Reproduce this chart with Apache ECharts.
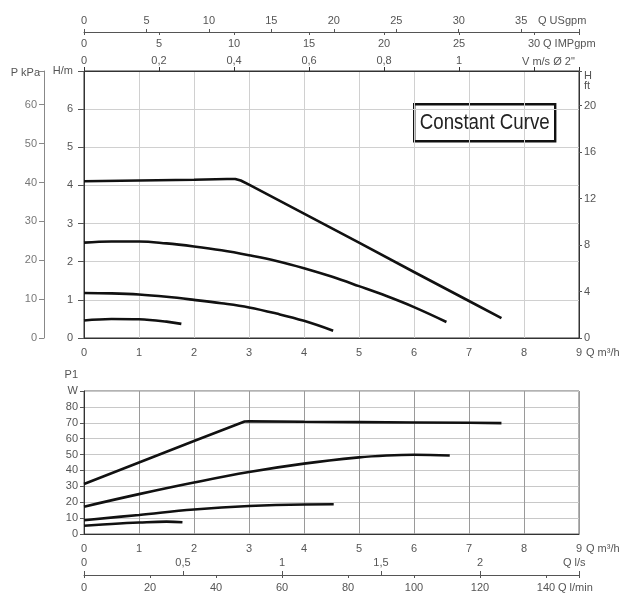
<!DOCTYPE html>
<html><head><meta charset="utf-8">
<script src="https://cdn.jsdelivr.net/npm/echarts@6/dist/echarts.min.js"></script>
<style>html,body{margin:0;padding:0;background:#fff}#c{width:630px;height:597px}</style>
</head><body><div id="c"></div>
<script>
// ---- Data ----
// Head curves: [Q m3/h, H m]
const headCurve1 = [[0,4.11],[1,4.13],[2,4.15],[2.6,4.17],[2.75,4.17],[2.85,4.13],[3,4.02],[4,3.26],[5,2.50],[6,1.73],[7,0.97],[7.59,0.52]];
const headCurve2 = [[0,2.50],[0.5,2.53],[1,2.53],[1.5,2.48],[2,2.40],[2.5,2.30],[3,2.17],[3.5,2.02],[4,1.83],[4.5,1.61],[5,1.36],[5.5,1.10],[6,0.81],[6.59,0.42]];
const headCurve3 = [[0,1.18],[0.5,1.17],[1,1.14],[1.5,1.08],[2,1.00],[2.5,0.91],[3,0.80],[3.5,0.64],[4,0.45],[4.53,0.19]];
const headCurve4 = [[0,0.46],[0.5,0.50],[1,0.49],[1.5,0.43],[1.77,0.37]];
// Power curves: [Q m3/h, P1 W]
const powerCurve1 = [[0,31.5],[1,45],[2,58.5],[2.92,70.8],[3,70.9],[4,70.6],[5,70.4],[6,70.2],[7,70],[7.59,69.8]];
const powerCurve2 = [[0,17.2],[1,25.1],[2,32.4],[3,39],[4,44.3],[5,48.2],[5.5,49.4],[6,49.9],[6.65,49.4]];
const powerCurve3 = [[0,8.7],[1,12],[2,15.4],[3,17.6],[4,18.6],[4.54,18.7]];
const powerCurve4 = [[0,5.2],[0.5,6.3],[1,7.2],[1.5,7.8],[1.79,7.4]];

// Axis ranges / conversions
const qMax = 9;          // m3/h
const hMax = 7;          // m
const wMax = 90;         // W
const usgpmPerM3h = 4.403;
const impgpmPerM3h = 3.666;
const m3hPerMs = 6.82;   // velocity in 2" pipe
const lsPerM3h = 1 / 3.6;
const lminPerM3h = 1000 / 60;
const kpaPerM = 9.81;
const ftPerM = 3.2808;

// Axis names
const nameQ = 'Q m³/h';
const nameUS = 'Q USgpm';
const nameIMP = 'Q IMPgpm';
const nameV = 'V m/s Ø 2"';
const nameLs = 'Q l/s';
const nameLmin = 'Q l/min';

// ---- Chart ----
const FONT = 'Liberation Sans, Arial, sans-serif';
const lab = (extra) => Object.assign({color:'#555', fontSize:11, fontFamily:FONT}, extra || {});
const fmt = v => String(+(+v).toFixed(2)).replace('.', ',');
const onStep = (v, step) => Math.abs(v/step - Math.round(v/step)) < 1e-6;
const stepFmt = (step, maxShown) => v => (onStep(v, step) && (maxShown === undefined || v <= maxShown + 1e-9)) ? fmt(v) : '';
const aLine = (color, show) => ({show: show !== false, onZero:false, lineStyle:{color}});

const chart = echarts.init(document.getElementById('c'), null, {renderer:'canvas'});
const lineS = (data, xi, yi, smooth) => ({
  type:'line', data, xAxisIndex:xi, yAxisIndex:yi, showSymbol:false, symbol:'none',
  smooth: smooth, lineStyle:{color:'#111', width:2.6}, silent:true, animation:false
});

const nameStyle = (extra) => Object.assign({color:'#555', fontSize:11, fontFamily:FONT}, extra);

chart.setOption({
  animation:false,
  backgroundColor:'#fff',
  grid:[
    {left:84, top:71, width:495, height:267, show:true, borderColor:'#333', borderWidth:1, backgroundColor:'transparent', outerBoundsMode:'none', containLabel:false},
    {left:84, top:391, width:495, height:143, show:true, borderColor:'#666', borderWidth:1, backgroundColor:'transparent', outerBoundsMode:'none', containLabel:false}
  ],
  xAxis:[
    { // 0: top chart Q m3/h
      type:'value', gridIndex:0, position:'bottom', min:0, max:qMax, interval:1,
      axisLine:aLine('#333'), axisTick:{show:false},
      axisLabel:lab({margin:9, formatter:stepFmt(1)}),
      splitLine:{show:true, lineStyle:{color:'#d0d0d0', width:1}},
      name:nameQ, nameLocation:'end', nameGap:7, nameMoveOverlap:false,
      nameTextStyle:nameStyle({align:'left', verticalAlign:'top', padding:[9,0,0,0]})
    },
    { // 1: velocity
      type:'value', gridIndex:0, position:'top', offset:0, min:0, max:qMax/m3hPerMs, interval:0.2,
      axisLine:aLine('#333'), axisTick:{show:true, length:4, lineStyle:{color:'#333'}},
      axisLabel:lab({margin:5, formatter:stepFmt(0.2, 1.0)}),
      splitLine:{show:false},
      name:nameV, nameLocation:'end', nameGap:-57, nameMoveOverlap:false,
      nameTextStyle:nameStyle({align:'left', verticalAlign:'bottom', padding:[0,0,4,0]})
    },
    { // 2: USgpm
      type:'value', gridIndex:0, position:'top', offset:39, min:0, max:qMax*usgpmPerM3h, interval:5,
      axisLine:aLine('#555'), axisTick:{show:true, length:3, lineStyle:{color:'#555'}},
      axisLabel:lab({margin:6, formatter:stepFmt(5)}),
      splitLine:{show:false},
      name:nameUS, nameLocation:'end', nameGap:-41, nameMoveOverlap:false,
      nameTextStyle:nameStyle({align:'left', verticalAlign:'bottom', padding:[0,0,6,0]})
    },
    { // 3: IMPgpm
      type:'value', gridIndex:0, position:'top', offset:39, min:0, max:qMax*impgpmPerM3h, interval:5,
      axisLine:aLine('#555', false), axisTick:{show:true, inside:true, length:3, lineStyle:{color:'#555'}},
      axisLabel:lab({inside:true, margin:6, formatter:stepFmt(5)}),
      splitLine:{show:false},
      name:nameIMP, nameLocation:'end', nameGap:-36, nameMoveOverlap:false,
      nameTextStyle:nameStyle({align:'left', verticalAlign:'top', padding:[6,0,0,0]})
    },
    { // 4: bottom chart Q m3/h
      type:'value', gridIndex:1, position:'bottom', min:0, max:qMax, interval:1,
      axisLine:aLine('#333'), axisTick:{show:false},
      axisLabel:lab({margin:9, formatter:stepFmt(1)}),
      splitLine:{show:true, lineStyle:{color:'#9a9a9a', width:1}},
      name:nameQ, nameLocation:'end', nameGap:7, nameMoveOverlap:false,
      nameTextStyle:nameStyle({align:'left', verticalAlign:'top', padding:[9,0,0,0]})
    },
    { // 5: l/s
      type:'value', gridIndex:1, position:'bottom', offset:41, min:0, max:qMax*lsPerM3h, interval:0.5,
      axisLine:aLine('#555'), axisTick:{show:true, inside:true, length:4, lineStyle:{color:'#555'}},
      axisLabel:lab({inside:true, margin:7, formatter:stepFmt(0.5, 2.0)}),
      splitLine:{show:false},
      name:nameLs, nameLocation:'end', nameGap:-16, nameMoveOverlap:false,
      nameTextStyle:nameStyle({align:'left', verticalAlign:'bottom', padding:[0,0,7,0]})
    },
    { // 6: l/min
      type:'value', gridIndex:1, position:'bottom', offset:41, min:0, max:qMax*lminPerM3h, interval:20,
      axisLine:aLine('#555', false), axisTick:{show:true, length:3, lineStyle:{color:'#555'}},
      axisLabel:lab({margin:7, formatter:stepFmt(20, 140)}),
      splitLine:{show:false},
      name:nameLmin, nameLocation:'end', nameGap:-21, nameMoveOverlap:false,
      nameTextStyle:nameStyle({align:'left', verticalAlign:'top', padding:[7,0,0,0]})
    }
  ],
  yAxis:[
    { // 0: H/m
      type:'value', gridIndex:0, position:'left', min:0, max:hMax, interval:1,
      axisLine:aLine('#333'), axisTick:{show:true, length:6, lineStyle:{color:'#555'}},
      axisLabel:lab({margin:11, formatter: v => v >= hMax ? 'H/m' : fmt(v)}),
      splitLine:{show:true, lineStyle:{color:'#d0d0d0', width:1}}
    },
    { // 1: kPa
      type:'value', gridIndex:0, position:'left', offset:40, min:0, max:hMax*kpaPerM, interval:10,
      axisLine:aLine('#888'), axisTick:{show:true, length:5, lineStyle:{color:'#888'}},
      axisLabel:lab({color:'#777', margin:7, formatter:stepFmt(10)}),
      splitLine:{show:false},
      name:'P kPa', nameLocation:'end', nameGap:-2, nameMoveOverlap:false,
      nameTextStyle:nameStyle({align:'right', verticalAlign:'middle', padding:[0,4,0,0]})
    },
    { // 2: ft
      type:'value', gridIndex:0, position:'right', min:0, max:hMax*ftPerM, interval:4,
      axisLine:aLine('#333'), axisTick:{show:true, length:3, lineStyle:{color:'#555'}},
      axisLabel:lab({margin:5, formatter:stepFmt(4, 20)}),
      splitLine:{show:false},
      name:'H\nft', nameLocation:'end', nameGap:-10, nameMoveOverlap:false,
      nameTextStyle:nameStyle({align:'left', verticalAlign:'middle', lineHeight:10, padding:[0,0,0,5]})
    },
    { // 3: P1 W
      type:'value', gridIndex:1, position:'left', min:0, max:wMax, interval:10,
      axisLine:aLine('#333'), axisTick:{show:true, length:4, lineStyle:{color:'#555'}},
      axisLabel:lab({margin:6, formatter: v => v >= wMax ? 'W' : fmt(v)}),
      splitLine:{show:true, lineStyle:{color:'#c8c8c8', width:1}},
      name:'P1', nameLocation:'end', nameGap:16, nameMoveOverlap:false,
      nameTextStyle:nameStyle({align:'right', verticalAlign:'middle', padding:[0,6,0,0]})
    }
  ],
  series:[
    lineS(headCurve1, 0, 0, false),
    lineS(headCurve2, 0, 0, 0.4),
    lineS(headCurve3, 0, 0, 0.4),
    lineS(headCurve4, 0, 0, 0.4),
    lineS(powerCurve1, 4, 3, false),
    lineS(powerCurve2, 4, 3, 0.4),
    lineS(powerCurve3, 4, 3, 0.4),
    lineS(powerCurve4, 4, 3, 0.4)
  ],
  graphic:[{
    type:'group', left:413, top:103, z:100,
    children:[
      {type:'rect', shape:{x:0, y:0, width:141, height:37}, style:{fill:'#fff', stroke:'#111', lineWidth:2.4}},
      {type:'text', x:70.5, y:19, scaleX:0.85, originX:0, originY:0,
        style:{text:'Constant Curve', fill:'#222', align:'center', verticalAlign:'middle',
        font:'22px "Liberation Sans", Arial, sans-serif'}}
    ]
  }]
});
</script>
</body></html>
